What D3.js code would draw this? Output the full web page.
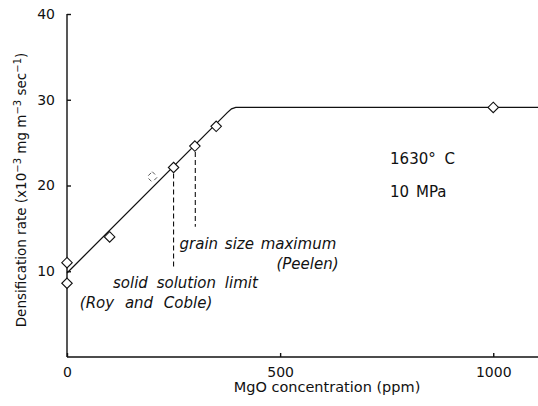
<!DOCTYPE html>
<html>
<head>
<meta charset="utf-8">
<script src="https://cdn.jsdelivr.net/npm/d3@7"></script>
<style>
  body { margin: 0; background: #fff; }
  text { font-family: "DejaVu Sans", sans-serif; fill: #111; }
  .axis path, .axis line { stroke: #111; stroke-width: 1.4; }
  .axis text { font-size: 14px; font-family: "DejaVu Sans", sans-serif; }
</style>
</head>
<body>
<div class="chart"></div>
<script>
var svgWidth = 538;
var svgHeight = 406;

var margin = { top: 14, right: 0, bottom: 48, left: 67 };
var width = svgWidth - margin.left - margin.right;

// measured points (ppm, rate)
var mgo = [0, 0, 100, 250, 300, 350, 1000];
var rate = [11, 8.6, 14, 22.1, 24.6, 26.9, 29.1];
// the faint half-drawn point
var halfMgo = [200];
var halfRate = [21];

// fitted curve
var fitMgo = [0, 376, 386, 396, 1105];
var fitRate = [9.8, 28.5, 28.95, 29.1, 29.1];

// dashed markers
var markX = [250, 301];
var markTop = [21.4, 23.9];
var markBottom = [10.4, 15.2];

var xTicks = [0, 500, 1000];
var yTicks = [10, 20, 30, 40];

var svg = d3.select(".chart")
  .append("svg")
  .attr("width", svgWidth)
  .attr("height", svgHeight);

var chart = svg.append("g")
  .attr("transform", "translate(" + margin.left + "," + margin.top + ")");

var x = d3.scaleLinear().domain([0, 1105]).range([0, width]);
var y = d3.scaleLinear().domain([0, 40]).range([343, 0]);

// axes
var bottomAxis = d3.axisBottom(x).tickValues(xTicks).tickFormat(d3.format("d"))
  .tickSize(-4).tickPadding(10).tickSizeOuter(0);
var leftAxis = d3.axisLeft(y).tickValues(yTicks)
  .tickSize(-4).tickPadding(12).tickSizeOuter(0);

chart.append("g")
  .attr("class", "axis")
  .attr("transform", "translate(0," + y(0) + ")")
  .call(bottomAxis)
  .call(function(g) { g.select(".domain").attr("d", "M0,0H" + width); });

chart.append("g")
  .attr("class", "axis")
  .call(leftAxis)
  .call(function(g) { g.select(".domain").attr("d", "M0," + y(0) + "V" + y(40)); });

// fitted line
var fit = fitMgo.map(function(d, i) { return [d, fitRate[i]]; });
chart.append("path")
  .datum(fit)
  .attr("fill", "none")
  .attr("stroke", "#111")
  .attr("stroke-width", 1.3)
  .attr("d", d3.line()
    .x(function(d) { return x(d[0]); })
    .y(function(d) { return y(d[1]); }));

// dashed markers
markX.forEach(function(m, i) {
  chart.append("line")
    .attr("x1", x(m)).attr("x2", x(m))
    .attr("y1", y(markTop[i])).attr("y2", y(markBottom[i]))
    .attr("stroke", "#111")
    .attr("stroke-width", 1.1)
    .attr("stroke-dasharray", "5,3");
});

// diamonds
var diamond = d3.symbol().type(d3.symbolDiamond2).size(70);
chart.selectAll(".pt")
  .data(mgo)
  .enter().append("path")
  .attr("class", "pt")
  .attr("d", diamond)
  .attr("transform", function(d, i) {
    return "translate(" + x(d) + "," + y(rate[i]) + ")";
  })
  .attr("fill", "#fff")
  .attr("stroke", "#111")
  .attr("stroke-width", 1.1);

// faint half diamond
chart.selectAll(".half")
  .data(halfMgo)
  .enter().append("path")
  .attr("class", "half")
  .attr("d", diamond)
  .attr("transform", function(d, i) {
    return "translate(" + x(d) + "," + y(halfRate[i]) + ")";
  })
  .attr("fill", "#fff")
  .attr("stroke", "#555")
  .attr("stroke-width", 1)
  .attr("stroke-dasharray", "4,4");

// annotations
function note(tx, ty, str, anchor, italic, ws) {
  chart.append("text")
    .attr("x", tx).attr("y", ty)
    .attr("text-anchor", anchor || "start")
    .style("font-size", "15px")
    .style("word-spacing", (ws || 0) + "px")
    .style("font-style", italic ? "italic" : "normal")
    .text(str);
}
note(x(108), y(8.0), "solid solution limit", "start", true, 4);
note(x(30), y(5.7), "(Roy and Coble)", "start", true, 6);
note(x(264), y(12.6), "grain size maximum", "start", true, 2);
note(x(637), y(10.3), "(Peelen)", "end", true);
note(x(758), y(22.5), "1630\u00b0 C", "start", false, 4);
note(x(758), y(18.7), "10 MPa", "start", false, 2);

// x label
svg.append("text")
  .attr("x", margin.left + x(610))
  .attr("y", 392)
  .attr("text-anchor", "middle")
  .style("font-size", "14.5px")
  .text("MgO concentration (ppm)");

// y label
var yl = svg.append("text")
  .attr("transform", "translate(26," + 190 + ") rotate(-90)")
  .attr("text-anchor", "middle")
  .style("font-size", "13.5px");
yl.append("tspan").text("Densification rate (x10");
yl.append("tspan").attr("dy", -5).style("font-size", "10px").text("\u22123");
yl.append("tspan").attr("dy", 5).text(" mg m");
yl.append("tspan").attr("dy", -5).style("font-size", "10px").text("\u22123");
yl.append("tspan").attr("dy", 5).text(" sec");
yl.append("tspan").attr("dy", -5).style("font-size", "10px").text("\u22121");
yl.append("tspan").attr("dy", 5).text(")");
</script>
</body>
</html>
